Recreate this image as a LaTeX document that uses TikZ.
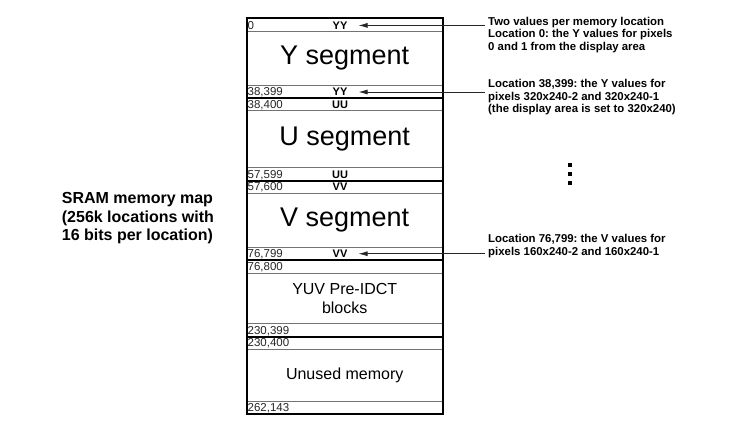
\documentclass[tikz,border=0pt]{standalone}
\usepackage{fontspec}
\setmainfont{Liberation Sans}
\usetikzlibrary{arrows.meta}
\frenchspacing

\begin{document}
\begin{tikzpicture}[x=1pt, y=-1pt, >={Latex[length=9pt,width=5pt]},
    thinrule/.style={black!55, line width=0.8pt},
    thickrule/.style={black, line width=1.8pt},
    addr/.style={anchor=base west, inner sep=0pt, text=black!85, font=\fontsize{11.5}{12}\selectfont},
    val/.style={anchor=base, inner sep=0pt, font=\bfseries\fontsize{11}{12}\selectfont},
    seg/.style={align=center, font=\fontsize{27}{30}\selectfont},
    segsmall/.style={align=center, font=\fontsize{16}{19.3}\selectfont},
    note/.style={anchor=west, align=left, inner xsep=3pt, inner ysep=0pt, font=\bfseries\fontsize{11.4}{12.5}\selectfont},
    pointer/.style={->, black!85, line width=0.8pt, shorten >=11pt}]
    \useasboundingbox (0,0) rectangle (729,431);

    % row separators inside the memory map
    \draw[thinrule] (246.7, 31.7) -- (442.7, 31.7);
    \draw[thinrule] (246.7, 85) -- (442.7, 85);
    \draw[thinrule] (246.7, 110.7) -- (442.7, 110.7);
    \draw[thinrule] (246.7, 167.7) -- (442.7, 167.7);
    \draw[thinrule] (246.7, 193.3) -- (442.7, 193.3);
    \draw[thinrule] (246.7, 247.3) -- (442.7, 247.3);
    \draw[thinrule] (246.7, 273.3) -- (442.7, 273.3);
    \draw[thinrule] (246.7, 323.3) -- (442.7, 323.3);
    \draw[thinrule] (246.7, 349.3) -- (442.7, 349.3);
    \draw[thinrule] (246.7, 401.7) -- (442.7, 401.7);
    \draw[thickrule] (246.7, 98.3) -- (442.7, 98.3);
    \draw[thickrule] (246.7, 180.7) -- (442.7, 180.7);
    \draw[thickrule] (246.7, 260) -- (442.7, 260);
    \draw[thickrule] (246.7, 336.7) -- (442.7, 336.7);
    \draw[thickrule] (246.7, 18.3) rectangle (442.7, 414.3);

    % segments
    \node[seg] (yseg) at (344.7, 58.3) {Y segment};
    \node[seg] (useg) at (344.7, 139.2) {U segment};
    \node[seg] (vseg) at (344.7, 220.3) {V segment};
    \node[segsmall] (idct) at (344.7, 298.8) {YUV Pre-IDCT\\blocks};
    \node[segsmall] (unused) at (344.7, 375.5) {Unused memory};

    % addresses
    \node[addr] (a0) at (247.5, 29.2) {0};
    \node[addr] (a1) at (247.5, 95.8) {38,399};
    \node[addr] (a2) at (247.5, 108.2) {38,400};
    \node[addr] (a3) at (247.5, 178.2) {57,599};
    \node[addr] (a4) at (247.5, 190.8) {57,600};
    \node[addr] (a5) at (247.5, 257.5) {76,799};
    \node[addr] (a6) at (247.5, 270.8) {76,800};
    \node[addr] (a7) at (247.5, 334.2) {230,399};
    \node[addr] (a8) at (247.5, 346.8) {230,400};
    \node[addr] (a9) at (247.5, 411.3) {262,143};

    % stored values
    \node[val] (v0) at (340, 29.2) {YY};
    \node[val] (v1) at (340, 95.8) {YY};
    \node[val] (v2) at (340, 108.2) {UU};
    \node[val] (v3) at (340, 178.2) {UU};
    \node[val] (v4) at (340, 190.8) {VV};
    \node[val] (v5) at (340, 257.5) {VV};

    % notes on the right
    \node[note] (n0) at (485, 35) {Two values per memory location\\Location 0: the Y values for pixels\\0 and 1 from the display area};
    \node[note] (n1) at (485, 97.5) {Location 38,399: the Y values for\\pixels 320x240-2 and 320x240-1\\(the display area is set to 320x240)};
    \node[note] (n2) at (485, 246) {Location 76,799: the V values for\\pixels 160x240-2 and 160x240-1};
    \draw[pointer] (n0.west |- v0) -- (v0.east);
    \draw[pointer] (n1.west |- v1) -- (v1.east);
    \draw[pointer] (n2.west |- v5) -- (v5.east);
    \fill (568, 163) rectangle (572, 167);
    \fill (568, 172) rectangle (572, 176);
    \fill (568, 181) rectangle (572, 185);

    \node[anchor=west, align=left, inner sep=0pt, font=\bfseries\fontsize{16}{18.3}\selectfont] (sram) at (61.7, 218.3) {SRAM memory map\\(256k locations with\\16 bits per location)};
\end{tikzpicture}
\end{document}
